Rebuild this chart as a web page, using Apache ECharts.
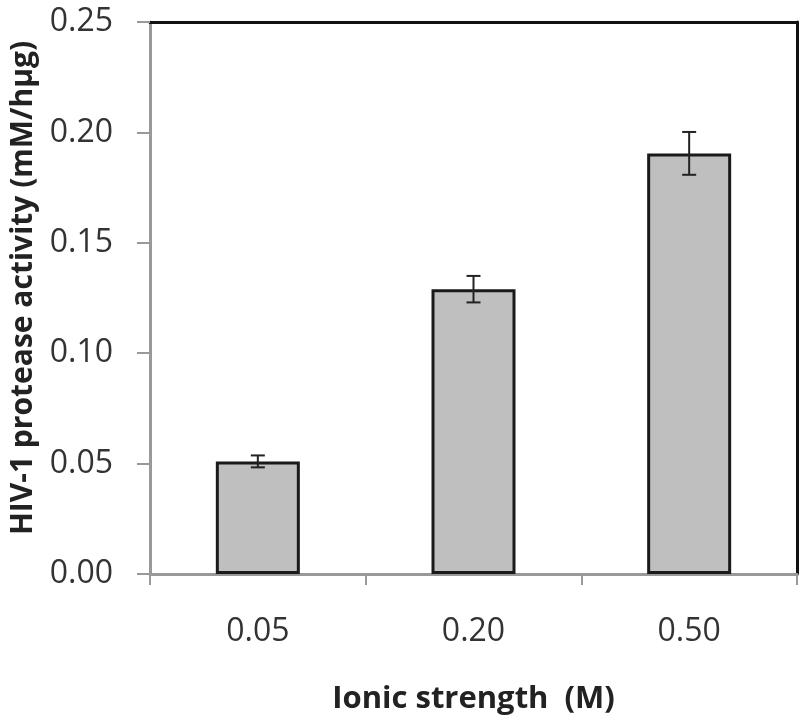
<!DOCTYPE html>
<html>
<head>
<meta charset="utf-8">
<script src="https://cdn.jsdelivr.net/npm/echarts@6/dist/echarts.min.js"></script>
<style>html,body{margin:0;padding:0;background:#fff;}#c{width:800px;height:727px;}</style>
</head>
<body>
<div id="c"></div>
<script>
const categories = ['0.05', '0.20', '0.50'];
const activity = [0.051, 0.129, 0.1905];
const errors = [0.0027, 0.006, 0.0097];
const yTicks = [0, 0.05, 0.10, 0.15, 0.20, 0.25];

const chart = echarts.init(document.getElementById('c'));
const font = '"Open Sans", sans-serif';
const errData = activity.map((v, i) => [i, v - errors[i], v + errors[i]]);

chart.setOption({
  animation: false,
  grid: { left: 150, right: 3, top: 22, bottom: 153, containLabel: false, outerBoundsMode: 'none' },
  xAxis: [{
    type: 'category',
    data: categories,
    axisLine: { lineStyle: { color: '#999', width: 3 } },
    axisTick: { show: true, alignWithLabel: false, length: 11, lineStyle: { color: '#999', width: 2 } },
    axisLabel: { margin: 42, fontSize: 32, color: '#333', fontFamily: font },
    name: 'Ionic strength  (M)',
    nameLocation: 'middle',
    nameGap: 110,
    nameTextStyle: { fontSize: 31, fontWeight: 'bold', color: '#222', fontFamily: font }
  }, {
    type: 'category',
    data: categories,
    position: 'top',
    axisLine: { show: true, onZero: false, lineStyle: { color: '#111', width: 3 } },
    axisTick: { show: false },
    axisLabel: { show: false }
  }],
  yAxis: [{
    type: 'value',
    min: yTicks[0],
    max: yTicks[yTicks.length - 1],
    interval: 0.05,
    splitLine: { show: false },
    axisLine: { show: true, lineStyle: { color: '#999', width: 3 } },
    axisTick: { show: true, length: 13, lineStyle: { color: '#999', width: 2 } },
    axisLabel: { margin: 37, fontSize: 32, color: '#333', fontFamily: font, formatter: v => v.toFixed(2) },
    name: 'HIV-1 protease activity (mM/hμg)',
    nameLocation: 'middle',
    nameGap: 106,
    nameTextStyle: { fontSize: 30, fontWeight: 'bold', color: '#222', fontFamily: font, padding: [0, 0, 0, 20] }
  }, {
    type: 'value',
    position: 'right',
    min: 0, max: 0.25, interval: 0.05,
    splitLine: { show: false },
    axisLine: { show: true, onZero: false, lineStyle: { color: '#111', width: 3 } },
    axisTick: { show: false },
    axisLabel: { show: false }
  }],
  series: [{
    type: 'bar',
    data: activity,
    barWidth: 84,
    itemStyle: { color: '#bfbfbf', borderColor: '#1a1a1a', borderWidth: 3 },
    z: 2
  }, {
    type: 'custom',
    data: errData,
    z: 5,
    renderItem: function (params, api) {
      const x = api.value(0);
      const lo = api.coord([x, api.value(1)]);
      const hi = api.coord([x, api.value(2)]);
      const w = 7;
      const st = { stroke: '#222', lineWidth: 2 };
      return {
        type: 'group',
        children: [
          { type: 'line', shape: { x1: hi[0], y1: hi[1], x2: lo[0], y2: lo[1] }, style: st },
          { type: 'line', shape: { x1: hi[0] - w, y1: hi[1], x2: hi[0] + w, y2: hi[1] }, style: st },
          { type: 'line', shape: { x1: lo[0] - w, y1: lo[1], x2: lo[0] + w, y2: lo[1] }, style: st }
        ]
      };
    }
  }]
});
</script>
</body>
</html>
